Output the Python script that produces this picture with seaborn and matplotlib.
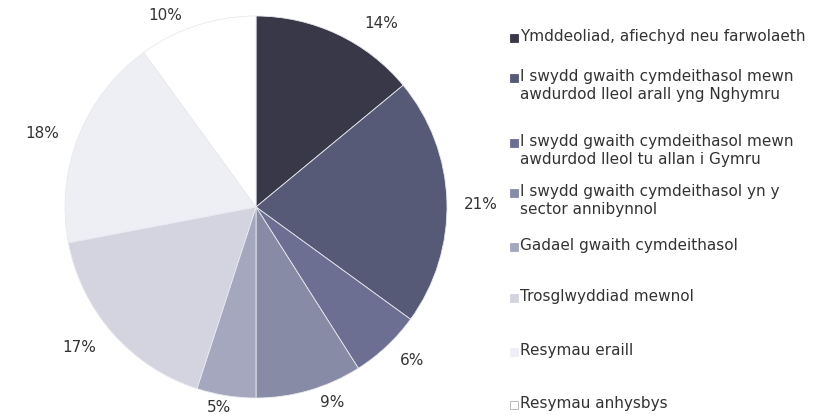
import matplotlib.pyplot as plt
import seaborn as sns
from matplotlib.patches import Rectangle

# Data
reasons = [
    'Ymddeoliad, afiechyd neu farwolaeth',
    'I swydd gwaith cymdeithasol mewn\nawdurdod lleol arall yng Nghymru',
    'I swydd gwaith cymdeithasol mewn\nawdurdod lleol tu allan i Gymru',
    'I swydd gwaith cymdeithasol yn y\nsector annibynnol',
    'Gadael gwaith cymdeithasol',
    'Trosglwyddiad mewnol',
    'Resymau eraill',
    'Resymau anhysbys',
]
shares = [14, 21, 6, 9, 5, 17, 18, 10]
slice_colors = ['#383849', '#565a77', '#6c6f92', '#888ba6',
                '#a5a7bf', '#d4d4e1', '#eeeff4', '#ffffff']

sns.set_theme(style='white')
plt.rcParams['font.family'] = ['DejaVu Sans']

W, H = 814, 415
fig = plt.figure(figsize=(W / 100, H / 100), dpi=100)

# pie: centre (256, 207) px, radius 191 px
cx, cy, r = 256, 207, 191
ax = fig.add_axes([(cx - r) / W, (H - cy - r) / H, 2 * r / W, 2 * r / H])
labels = [f'{v}%' for v in shares]
wedges, texts = ax.pie(shares, labels=labels, colors=slice_colors,
                       startangle=90, counterclock=False, labeldistance=1.15,
                       wedgeprops=dict(edgecolor='#e8e8ee', linewidth=0.6),
                       textprops=dict(fontsize=11, color='#333333'))
ax.set_xlim(-1, 1)
ax.set_ylim(-1, 1)
ax.set_aspect('equal')

# nudge the labels (in px) to where the outside-end placement puts them
nudges = [(32, -15), (5, -4), (6, 7), (15, 15), (-3, 16), (-12, 5), (-10, -7), (-23, -17)]
for t, (dx, dy) in zip(texts, nudges):
    x, y = t.get_position()
    t.set_position((x + dx / r, y + dy / r))
    t.set_ha('center')
    t.set_va('center')
    t.set_clip_on(False)

# legend drawn by hand so the square sits on the first line of each entry
row_y = [38, 78, 143, 193, 247, 298, 352, 405]
for lab, col, y in zip(reasons, slice_colors, row_y):
    edge = '#b0b0b0' if col == '#ffffff' else col
    fig.patches.append(Rectangle((510 / W, (H - y - 4) / H), 8 / W, 8 / H,
                                 transform=fig.transFigure, facecolor=col,
                                 edgecolor=edge, linewidth=0.6))
    fig.text(520 / W, (H - y + 9) / H, lab, ha='left', va='top', fontsize=11,
             color='#333333', linespacing=1.25)

fig.savefig('out.png', dpi=100)
